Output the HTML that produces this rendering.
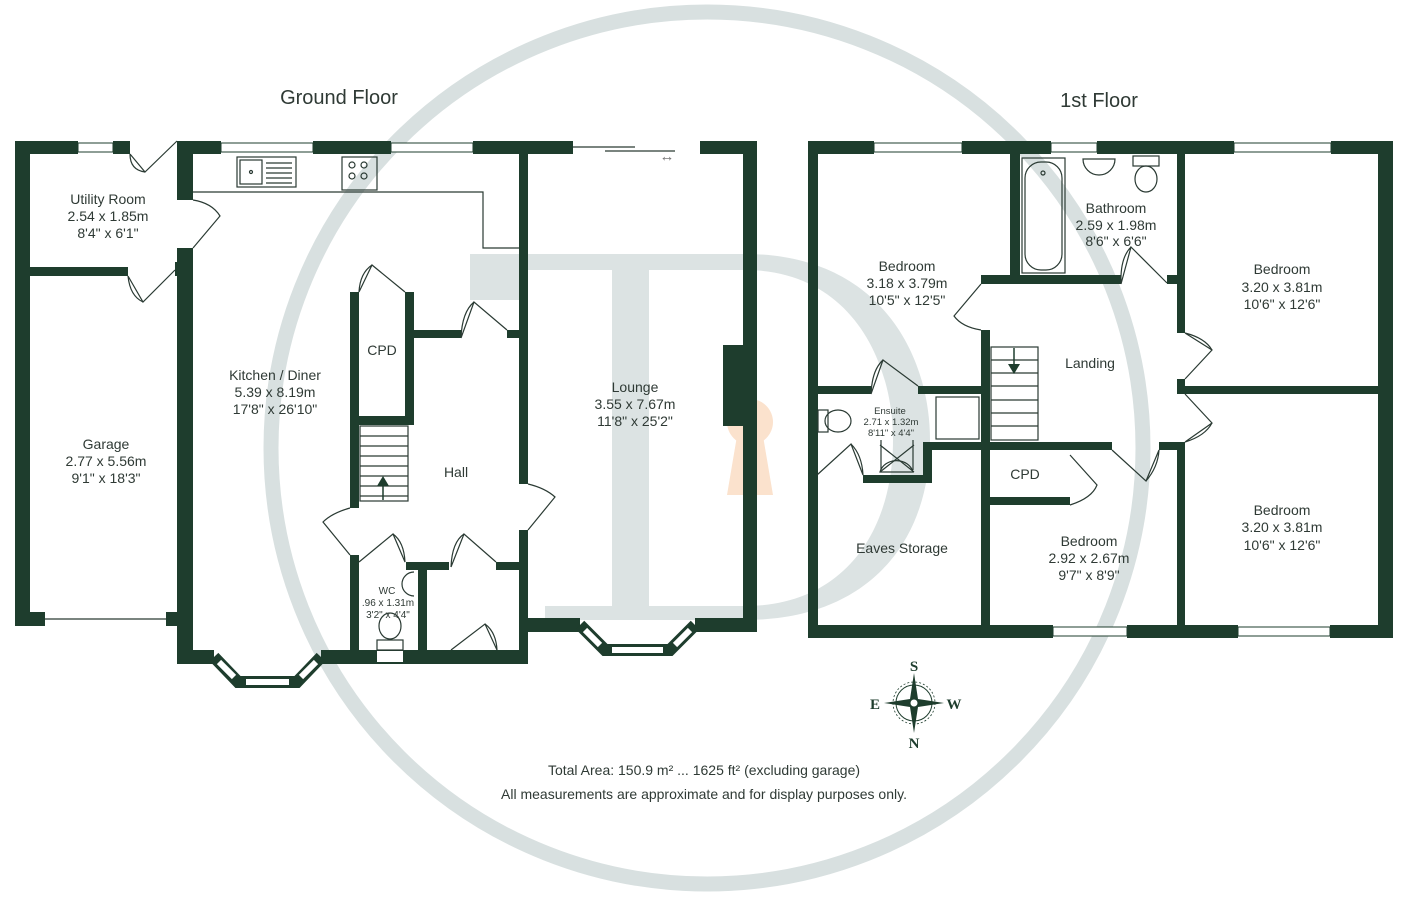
<!DOCTYPE html>
<html><head><meta charset="utf-8"><style>
html,body{margin:0;padding:0;background:#fff;}
svg{display:block;}
text{font-family:"Liberation Sans",sans-serif;fill:#2f3a35;text-anchor:middle;}
.w{fill:#1e3d2d;}
.l{fill:none;stroke:#2a3a33;stroke-width:1.2;}
.win{fill:#fff;stroke:#1e3d2d;stroke-width:1;}
</style></head><body>
<svg width="1409" height="899" viewBox="0 0 1409 899" xmlns="http://www.w3.org/2000/svg">
<!-- watermark -->
<circle cx="707" cy="448" r="436" fill="none" stroke="#d8e0e0" stroke-width="15"/>
<g fill="#dce3e3">
<rect x="612" y="262" width="37" height="350"/>
<path d="M470,254 L745,254 C880,254 930,355 930,440 C930,540 870,620 745,620 L545,620 L545,606 L745,606 C845,606 893,530 893,440 C893,360 850,270 745,270 L520,270 L520,300 L470,300 Z"/>
</g>
<g fill="#fbe2cd">
<circle cx="750" cy="422" r="23"/>
<path d="M738,430 L762,430 L773,495 L727,495 Z"/>
</g>

<!-- titles -->
<text x="339" y="104" font-size="20">Ground Floor</text>
<text x="1099" y="107" font-size="20">1st Floor</text>

<!-- GROUND FLOOR walls -->
<g class="w">
<rect x="15" y="141" width="15" height="485"/>
<rect x="15" y="141" width="63" height="13"/>
<rect x="113" y="141" width="17" height="13"/>
<rect x="30" y="267" width="98" height="9"/>
<rect x="175" y="262" width="18" height="14"/>
<rect x="15" y="612" width="30" height="14"/>
<rect x="166" y="612" width="27" height="14"/>
<rect x="177" y="141" width="44" height="13"/>
<rect x="313" y="141" width="78" height="13"/>
<rect x="473" y="141" width="100" height="13"/>
<rect x="700" y="141" width="57" height="13"/>
<rect x="177" y="141" width="16" height="59"/>
<rect x="177" y="248" width="16" height="416"/>
<rect x="177" y="650" width="37" height="14"/>
<rect x="321" y="650" width="207" height="14"/>
<rect x="519" y="154" width="9" height="330"/>
<rect x="519" y="530" width="9" height="134"/>
<rect x="743" y="141" width="14" height="491"/>
<rect x="528" y="618" width="52" height="14"/>
<rect x="695" y="618" width="62" height="14"/>
<rect x="723" y="345" width="20" height="81"/>
<rect x="350" y="292" width="9" height="216"/>
<rect x="405" y="292" width="9" height="133"/>
<rect x="359" y="416" width="46" height="9"/>
<rect x="414" y="330" width="47" height="8"/>
<rect x="507" y="330" width="12" height="8"/>
<rect x="350" y="555" width="9" height="109"/>
<rect x="406" y="562" width="43" height="8"/>
<rect x="418" y="562" width="9" height="102"/>
<rect x="496" y="562" width="23" height="8"/>
</g>
<!-- ground windows -->
<rect class="win" x="78" y="143" width="35" height="9"/>
<rect class="win" x="221" y="143" width="92" height="9"/>
<rect class="win" x="391" y="143" width="82" height="9"/>
<line x1="45" y1="619" x2="166" y2="619" class="l"/>
<!-- bays -->
<path d="M214,657 L238,682 L297,682 L321,657" fill="none" stroke="#1e3d2d" stroke-width="12"/>
<path d="M219,662 L234,677 M246,682 L289,682 M301,677 L316,662" fill="none" stroke="#fff" stroke-width="6"/>
<path d="M580,625 L605,650 L670,650 L695,625" fill="none" stroke="#1e3d2d" stroke-width="12"/>
<path d="M585,630 L600,645 M612,650 L663,650 M675,645 L690,630" fill="none" stroke="#fff" stroke-width="6"/>
<!-- sliding door -->
<path d="M573,147 L635,147 M605,151 L675,151" class="l"/>
<text x="667" y="161" font-size="15" style="fill:#777">↔</text>
<!-- counter & appliances -->
<path d="M193,192 L483,192 L483,248 L519,248" class="l"/>
<rect x="237" y="157" width="59" height="30" class="l"/>
<rect x="240" y="160" width="22" height="24" class="l"/>
<circle cx="251" cy="172" r="1.5" class="l"/>
<path d="M266,163 H292 M266,168 H292 M266,173 H292 M266,178 H292 M266,183 H292" class="l" stroke-width="0.7"/>
<rect x="342" y="157" width="35" height="33" class="l"/>
<circle cx="352" cy="165" r="3" class="l"/><circle cx="364" cy="165" r="3" class="l"/>
<circle cx="352" cy="176" r="3" class="l"/><circle cx="364" cy="176" r="3" class="l"/>
<!-- doors ground -->
<path d="M130,154 L145,172 L177,141" class="l"/>
<path d="M130,154 Q130,170 145,172" class="l"/>
<path d="M193,248 L220,216 Q212,203 193,200" class="l"/>
<path d="M128,276 L143,302 L175,270 M128,276 Q130,296 143,302" class="l"/>
<path d="M359,292 L372,265 L405,292 M359,292 Q360,273 372,265" class="l"/>
<path d="M461,338 L474,302 L507,330 M461,338 Q462,312 474,302" class="l"/>
<path d="M528,530 L555,497 Q545,488 528,484" class="l"/>
<path d="M350,555 L323,522 Q332,513 350,508" class="l"/>
<path d="M359,562 L393,534 L405,562 Q404,542 393,534" class="l"/>
<path d="M451,567 L464,534 L496,562 M451,567 Q452,542 464,534" class="l"/>
<path d="M451,650 L485,624 L497,650 Q496,632 485,624" class="l"/>
<!-- stairs -->
<rect x="360" y="426" width="48" height="75" class="l" stroke-width="0.8"/>
<path d="M360,436 H408 M360,446 H408 M360,456 H408 M360,466 H408 M360,476 H408 M360,486 H408 M360,496 H408" class="l" stroke-width="0.6"/>
<line x1="383" y1="500" x2="383" y2="482" stroke="#1e3d2d" stroke-width="1.5"/>
<path d="M377,486 L383,476 L389,486 Z" class="w"/>
<!-- WC fixtures -->
<path d="M414,572 A12,12 0 0 0 414,596" class="l"/>
<ellipse cx="390" cy="626" rx="11" ry="13" class="l"/>
<rect x="377" y="640" width="26" height="10" class="l"/>
<rect x="377" y="651" width="26" height="11" fill="#fff"/>

<!-- ground labels -->
<g font-size="14">
<text x="108" y="204">Utility Room</text><text x="108" y="221">2.54 x 1.85m</text><text x="108" y="238">8'4" x 6'1"</text>
<text x="106" y="449">Garage</text><text x="106" y="466">2.77 x 5.56m</text><text x="106" y="483">9'1" x 18'3"</text>
<text x="275" y="380">Kitchen / Diner</text><text x="275" y="397">5.39 x 8.19m</text><text x="275" y="414">17'8" x 26'10"</text>
<text x="382" y="355">CPD</text>
<text x="456" y="477">Hall</text>
<text x="635" y="392">Lounge</text><text x="635" y="409">3.55 x 7.67m</text><text x="635" y="426">11'8" x 25'2"</text>
</g>
<g font-size="10">
<text x="387" y="594">WC</text><text x="388" y="606">.96 x 1.31m</text><text x="388" y="618">3'2" x 4'4"</text>
</g>

<!-- FIRST FLOOR walls -->
<g class="w">
<rect x="808" y="141" width="66" height="13"/>
<rect x="962" y="141" width="89" height="13"/>
<rect x="1097" y="141" width="137" height="13"/>
<rect x="1331" y="141" width="62" height="13"/>
<rect x="808" y="141" width="10" height="497"/>
<rect x="1378" y="141" width="15" height="497"/>
<rect x="808" y="625" width="245" height="13"/>
<rect x="1127" y="625" width="111" height="13"/>
<rect x="1330" y="625" width="63" height="13"/>
<rect x="1010" y="154" width="10" height="129"/>
<rect x="981" y="275" width="140" height="9"/>
<rect x="1167" y="275" width="11" height="9"/>
<rect x="1177" y="154" width="8" height="179"/>
<rect x="1177" y="379" width="8" height="15"/>
<rect x="1177" y="386" width="201" height="8"/>
<rect x="1177" y="442" width="8" height="183"/>
<rect x="1159" y="442" width="18" height="8"/>
<rect x="981" y="330" width="9" height="295"/>
<rect x="817" y="386" width="54" height="8"/>
<rect x="918" y="386" width="63" height="8"/>
<rect x="923" y="442" width="189" height="8"/>
<rect x="923" y="442" width="9" height="41"/>
<rect x="863" y="475" width="69" height="8"/>
<rect x="990" y="497" width="80" height="8"/>
</g>
<rect class="win" x="874" y="143" width="88" height="9"/>
<rect class="win" x="1051" y="143" width="46" height="9"/>
<rect class="win" x="1234" y="143" width="97" height="9"/>
<rect class="win" x="1053" y="627" width="74" height="9"/>
<rect class="win" x="1238" y="627" width="92" height="9"/>
<!-- first floor fixtures -->
<rect x="1022" y="158" width="43" height="115" class="l"/>
<rect x="1025" y="162" width="37" height="108" rx="16" class="l"/>
<circle cx="1043" cy="173" r="2" class="l"/>
<path d="M1083,159 H1115 A16,16 0 0 1 1083,159 Z" class="l"/>
<rect x="1133" y="156" width="26" height="10" class="l"/>
<ellipse cx="1146" cy="179" rx="11" ry="13" class="l"/>
<rect x="818" y="410" width="10" height="22" class="l"/>
<ellipse cx="838" cy="421" rx="13" ry="11" class="l"/>
<rect x="936" y="397" width="43" height="42" class="l"/>
<path d="M880,445 L914,472 M914,445 L880,472 M881,440 V470 M913,440 V470" class="l" stroke-width="0.8"/>
<path d="M880,472 A17,15 0 0 1 913,472 Z" class="l"/>
<!-- stairs 1st -->
<rect x="991" y="347" width="47" height="93" class="l" stroke-width="0.8"/>
<path d="M991,360 H1038 M991,373 H1038 M991,386 H1038 M991,400 H1038 M991,413 H1038 M991,426 H1038" class="l" stroke-width="0.6"/>
<line x1="1014" y1="348" x2="1014" y2="366" stroke="#1e3d2d" stroke-width="1.5"/>
<path d="M1008,364 L1014,374 L1020,364 Z" class="w"/>
<!-- doors 1st -->
<path d="M1121,284 L1131,247 L1167,283 M1121,284 Q1120,258 1131,247" class="l"/>
<path d="M981,284 L954,316 Q962,327 981,330" class="l"/>
<path d="M1185,333 L1212,350 L1185,379 M1185,333 Q1205,338 1212,350" class="l"/>
<path d="M1185,394 L1212,423 L1185,442 M1212,423 Q1205,436 1185,442" class="l"/>
<path d="M1112,450 L1146,481 L1159,450 Q1158,467 1146,481" class="l"/>
<path d="M1070,455 L1097,485 Q1092,498 1070,505" class="l"/>
<path d="M871,394 L883,360 L918,386 M871,394 Q872,370 883,360" class="l"/>
<path d="M817,475 L851,444 L863,475 Q862,455 851,444" class="l"/>

<!-- first labels -->
<g font-size="14">
<text x="907" y="271">Bedroom</text><text x="907" y="288">3.18 x 3.79m</text><text x="907" y="305">10'5" x 12'5"</text>
<text x="1116" y="213">Bathroom</text><text x="1116" y="230">2.59 x 1.98m</text><text x="1116" y="246">8'6" x 6'6"</text>
<text x="1282" y="274">Bedroom</text><text x="1282" y="292">3.20 x 3.81m</text><text x="1282" y="309">10'6" x 12'6"</text>
<text x="1090" y="368">Landing</text>
<text x="1025" y="479">CPD</text>
<text x="902" y="553">Eaves Storage</text>
<text x="1089" y="546">Bedroom</text><text x="1089" y="563">2.92 x 2.67m</text><text x="1089" y="580">9'7" x 8'9"</text>
<text x="1282" y="515">Bedroom</text><text x="1282" y="532">3.20 x 3.81m</text><text x="1282" y="550">10'6" x 12'6"</text>
</g>
<g font-size="9.5">
<text x="890" y="414">Ensuite</text><text x="891" y="425">2.71 x 1.32m</text><text x="891" y="436">8'11" x 4'4"</text>
</g>

<!-- compass -->
<g transform="translate(914,703)">
<circle r="18" fill="none" stroke="#1e3d2d" stroke-width="1"/>
<circle r="21" fill="none" stroke="#1e3d2d" stroke-width="0.8" stroke-dasharray="2,2"/>
<path d="M0,-30 L4,-4 L30,0 L4,4 L0,30 L-4,4 L-30,0 L-4,-4 Z" fill="#1e3d2d"/>
<circle r="4" fill="#fff" stroke="#1e3d2d"/>
</g>
<g font-weight="bold" font-size="15">
<text x="914" y="671" style="font-family:'Liberation Serif',serif;fill:#1e3d2d">S</text>
<text x="914" y="748" style="font-family:'Liberation Serif',serif;fill:#1e3d2d">N</text>
<text x="875" y="709" style="font-family:'Liberation Serif',serif;fill:#1e3d2d">E</text>
<text x="954" y="709" style="font-family:'Liberation Serif',serif;fill:#1e3d2d">W</text>
</g>

<text x="704" y="775" font-size="14">Total Area: 150.9 m² ... 1625 ft² (excluding garage)</text>
<text x="704" y="799" font-size="14">All measurements are approximate and for display purposes only.</text>
</svg>
</body></html>
